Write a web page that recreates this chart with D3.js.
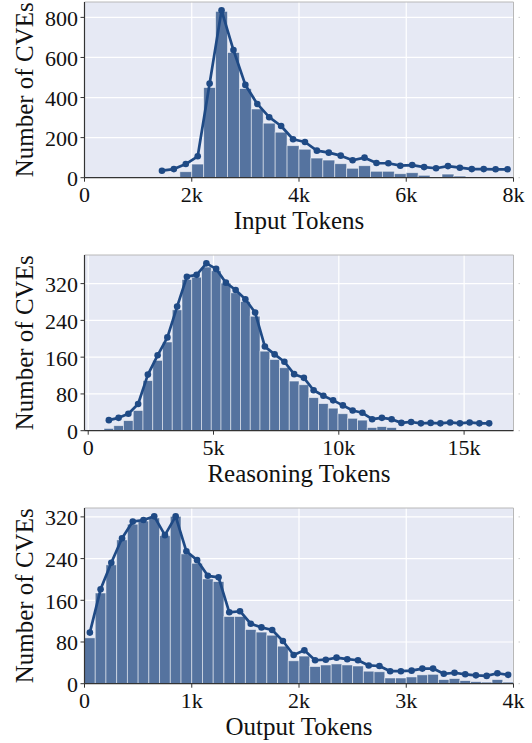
<!DOCTYPE html>
<html>
<head>
<meta charset="utf-8">
<script src="https://cdn.jsdelivr.net/npm/d3@7/dist/d3.min.js"></script>
<style>
  html, body { margin: 0; padding: 0; background: #fff; }
  svg { display: block; }
  .tick-label { font-family: "Liberation Serif", "Times New Roman", serif; font-size: 22px; fill: #111; }
  .axis-title { font-family: "Liberation Serif", "Times New Roman", serif; font-size: 25px; fill: #111; }
</style>
</head>
<body>
<svg id="chart" width="532" height="743"></svg>
<script>
// ---- data ----
// Input tokens: 36 bins over [0, 8000]
const inputBinStart = 0;
const inputBinWidth = 8000 / 36;
const inputCounts = [0, 0, 0, 0, 0, 0, 0, 5, 30, 68, 450, 830, 625, 445, 343, 272, 227, 160,
  142, 98, 88, 70, 47, 60, 32, 32, 20, 25, 12, 3, 18, 8, 2, 3, 1, 2];
const inputLineFirstBin = 6;
const inputLine = [35, 43, 68, 107, 470, 835, 637, 463, 368, 302, 258, 192, 178, 135, 125,
  110, 87, 100, 73, 72, 60, 63, 53, 47, 58, 50, 43, 43, 42, 42];
const inputTicks = [0, 2000, 4000, 6000, 8000];
const inputYTicks = [0, 200, 400, 600, 800];

// Reasoning tokens: 40 bins starting near 630
const reasoningBinStart = 630;
const reasoningBinWidth = 389.1;
const reasoningCounts = [5, 11, 22, 44, 109, 153, 193, 263, 329, 334, 356, 348, 321, 300, 281,
  249, 173, 155, 137, 108, 100, 72, 59, 49, 37, 27, 23, 7, 9, 7, 0, 1, 0, 1, 0, 1, 0, 1, 0, 0];
const reasoningLineFirstBin = 0;
const reasoningLine = [23, 28, 37, 58, 122, 164, 203, 270, 335, 339, 364, 352, 322, 306, 286,
  257, 183, 166, 150, 123, 115, 88, 76, 66, 55, 44, 39, 25, 28, 25, 17, 19, 16, 17, 16, 18,
  16, 18, 16, 16];
const reasoningTicks = [0, 5000, 10000, 15000];
const reasoningYTicks = [0, 80, 160, 240, 320];

// Output tokens: 40 bins over [0, 4000]
const outputBinStart = 0;
const outputBinWidth = 100;
const outputCounts = [88, 174, 228, 276, 306, 312, 318, 284, 321, 249, 231, 201, 196, 129, 129,
  104, 99, 93, 72, 44, 53, 33, 36, 38, 36, 34, 24, 23, 11, 11, 13, 17, 18, 8, 10, 6, 4, 3, 8, 3];
const outputLineFirstBin = 0;
const outputLine = [98, 181, 232, 279, 311, 314, 321, 285, 321, 254, 237, 207, 204, 137, 139,
  115, 108, 103, 82, 55, 64, 45, 46, 50, 47, 45, 35, 34, 24, 24, 25, 29, 29, 19, 21, 18, 16,
  15, 20, 17];
const outputTicks = [0, 1000, 2000, 3000, 4000];
const outputYTicks = [0, 80, 160, 240, 320];

// ---- drawing ----
const svg = d3.select('#chart');
const plotLeft = 84.5, plotRight = 513.5, plotHeight = 175.7;
const bgColor = '#e6e9f4', barColor = '#55739f', lineColor = '#1f4a85';

function kFormat(v) { return v === 0 ? '0' : (v / 1000) + 'k'; }

function drawPanel(p) {
  const g = svg.append('g');
  const top = p.top, bottom = p.top + plotHeight;
  const x = d3.scaleLinear().domain(p.xDomain).range([plotLeft, plotRight]);
  const yMax = 1.05 * d3.max(p.line);
  const y = d3.scaleLinear().domain([0, yMax]).range([bottom, top]);

  g.append('rect').attr('x', plotLeft).attr('y', top)
    .attr('width', plotRight - plotLeft).attr('height', plotHeight).attr('fill', bgColor);

  // grid
  g.selectAll('.gx').data(p.xTicks).join('line')
    .attr('x1', d => x(d)).attr('x2', d => x(d)).attr('y1', top).attr('y2', bottom)
    .attr('stroke', '#fff').attr('stroke-width', 1.2);
  g.selectAll('.gy').data(p.yTicks).join('line')
    .attr('x1', plotLeft).attr('x2', plotRight).attr('y1', d => y(d)).attr('y2', d => y(d))
    .attr('stroke', '#fff').attr('stroke-width', 1.2);

  // bars
  g.selectAll('.bar').data(p.counts).join('rect')
    .attr('x', (d, i) => x(p.binStart + i * p.binWidth))
    .attr('width', (d, i) => x(p.binStart + (i + 1) * p.binWidth) - x(p.binStart + i * p.binWidth))
    .attr('y', d => y(d))
    .attr('height', d => bottom - y(d))
    .attr('fill', barColor)
    .attr('stroke', 'rgba(255,255,255,0.55)').attr('stroke-width', 0.9)
    .style('display', d => d > 0 ? null : 'none');

  // line at bin centres
  const pts = p.line.map((v, j) => [p.binStart + (p.lineFirstBin + j + 0.5) * p.binWidth, v]);
  g.append('path').datum(pts)
    .attr('d', d3.line().x(d => x(d[0])).y(d => y(d[1])))
    .attr('fill', 'none').attr('stroke', lineColor).attr('stroke-width', 2.7)
    .attr('stroke-linejoin', 'round');
  g.selectAll('.dot').data(pts).join('circle')
    .attr('cx', d => x(d[0])).attr('cy', d => y(d[1])).attr('r', 3.3).attr('fill', lineColor);

  // spines
  g.append('line').attr('x1', plotLeft).attr('x2', plotRight).attr('y1', top).attr('y2', top)
    .attr('stroke', '#b8b8b8').attr('stroke-width', 1);
  g.append('line').attr('x1', plotRight).attr('x2', plotRight).attr('y1', top).attr('y2', bottom)
    .attr('stroke', '#b8b8b8').attr('stroke-width', 1);
  g.append('line').attr('x1', plotLeft).attr('x2', plotLeft).attr('y1', top).attr('y2', bottom)
    .attr('stroke', '#333').attr('stroke-width', 1.2);
  g.append('line').attr('x1', plotLeft).attr('x2', plotRight).attr('y1', bottom).attr('y2', bottom)
    .attr('stroke', '#333').attr('stroke-width', 1.2);

  // ticks
  g.selectAll('.tx').data(p.xTicks).join('line')
    .attr('x1', d => x(d)).attr('x2', d => x(d)).attr('y1', bottom).attr('y2', bottom + 4)
    .attr('stroke', '#333').attr('stroke-width', 1);
  g.selectAll('.ty').data(p.yTicks).join('line')
    .attr('x1', plotLeft - 4).attr('x2', plotLeft).attr('y1', d => y(d)).attr('y2', d => y(d))
    .attr('stroke', '#333').attr('stroke-width', 1);
  g.selectAll('.tyr').data(p.yTicks).join('line')
    .attr('x1', plotRight + 5).attr('x2', plotRight + 6.5).attr('y1', d => y(d)).attr('y2', d => y(d))
    .attr('stroke', '#ccc').attr('stroke-width', 1);

  // tick labels
  g.selectAll('.lx').data(p.xTicks).join('text').attr('class', 'tick-label')
    .attr('x', d => x(d)).attr('y', bottom + 24).attr('text-anchor', 'middle').text(kFormat);
  g.selectAll('.ly').data(p.yTicks).join('text').attr('class', 'tick-label')
    .attr('x', plotLeft - 6.5).attr('y', d => y(d) + 8.5).attr('text-anchor', 'end').text(d => d);

  // axis titles
  g.append('text').attr('class', 'axis-title')
    .attr('x', (plotLeft + plotRight) / 2).attr('y', bottom + 51).attr('text-anchor', 'middle')
    .text(p.xTitle);
  g.append('text').attr('class', 'axis-title')
    .attr('transform', `translate(33,${top + plotHeight / 2}) rotate(-90)`)
    .attr('text-anchor', 'middle').text('Number of CVEs');
}

drawPanel({ top: 2, xDomain: [0, 8000], binStart: inputBinStart, binWidth: inputBinWidth,
  counts: inputCounts, line: inputLine, lineFirstBin: inputLineFirstBin,
  xTicks: inputTicks, yTicks: inputYTicks, xTitle: 'Input Tokens' });
drawPanel({ top: 255, xDomain: [-148, 16971], binStart: reasoningBinStart, binWidth: reasoningBinWidth,
  counts: reasoningCounts, line: reasoningLine, lineFirstBin: reasoningLineFirstBin,
  xTicks: reasoningTicks, yTicks: reasoningYTicks, xTitle: 'Reasoning Tokens' });
drawPanel({ top: 508, xDomain: [0, 4000], binStart: outputBinStart, binWidth: outputBinWidth,
  counts: outputCounts, line: outputLine, lineFirstBin: outputLineFirstBin,
  xTicks: outputTicks, yTicks: outputYTicks, xTitle: 'Output Tokens' });
</script>
</body>
</html>
